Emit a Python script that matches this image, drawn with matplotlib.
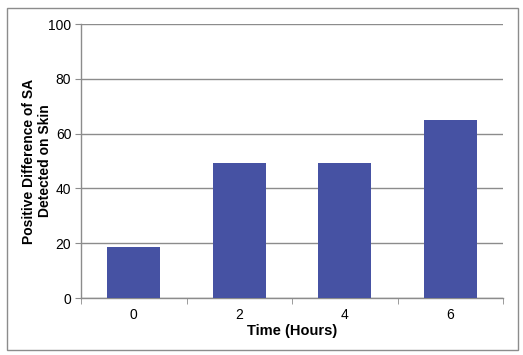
import matplotlib
matplotlib.use("Agg")
import matplotlib.pyplot as plt
from matplotlib.patches import Rectangle

categories = ["0", "2", "4", "6"]
values = [18.6, 49.3, 49.3, 65.0]
yticks = [0, 20, 40, 60, 80, 100]

plt.rcParams['font.family'] = ['Liberation Sans', 'DejaVu Sans']

fig = plt.figure(figsize=(5.23, 3.55), dpi=100)
fig.patch.set_facecolor('white')
fig.patches.append(Rectangle((7/523, 1-350/355), (518-7)/523, (350-8)/355,
                             transform=fig.transFigure, fill=False,
                             edgecolor='#8c8c8c', linewidth=1.0))

ax = fig.add_axes([81/523, 1-298/355, (503-81)/523, (298-24)/355])
x = list(range(len(categories)))
ax.bar(x, values, width=0.5, color='#4652A3', zorder=3)
ax.set_xlim(-0.5, len(categories)-0.5)
ax.set_ylim(0, 100)
ax.set_yticks(yticks)
ax.yaxis.grid(True, color='#8c8c8c', linewidth=1.0, zorder=0)
ax.set_xticks(x)
ax.set_xticklabels(categories)
ax.set_xticks([i - 0.5 for i in range(len(categories)+1)], minor=True)
ax.tick_params(axis='x', which='major', length=0, pad=7, labelsize=10)
ax.tick_params(axis='x', which='minor', length=4, color='#8c8c8c', direction='out')
ax.tick_params(axis='y', length=4, color='#8c8c8c', labelsize=10, pad=3)
for s in ['top', 'right']:
    ax.spines[s].set_visible(False)
for s in ['left', 'bottom']:
    ax.spines[s].set_color('#8c8c8c')
    ax.spines[s].set_linewidth(1.0)
ax.set_xlabel('Time (Hours)', fontsize=10.5, fontweight='bold', labelpad=2)
ax.set_ylabel('Positive Difference of SA\nDetected on Skin', fontsize=10,
              fontweight='bold', labelpad=-3, linespacing=1.2)

fig.savefig('out.png', dpi=100)
